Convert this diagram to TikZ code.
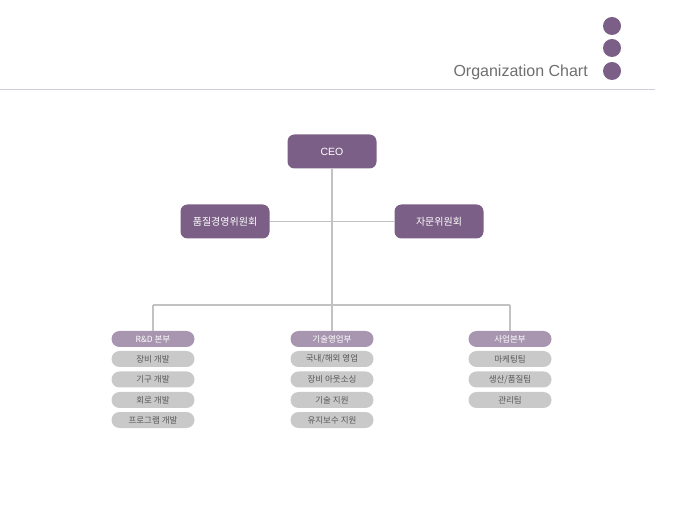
\documentclass[tikz,border=0pt]{standalone}
\usepackage{fontspec}
\setmainfont{Liberation Sans}
\newfontfamily\kr{Noto Sans CJK KR}
\definecolor{plum}{HTML}{7B5F86}
\definecolor{lplum}{HTML}{A896B0}
\definecolor{itemgray}{HTML}{C9C9C9}
\definecolor{linegray}{HTML}{C2C2C2}
\definecolor{rulegray}{HTML}{D3CDD6}
\definecolor{txtgray}{HTML}{6E6E6E}
\begin{document}
\begin{tikzpicture}[x=1pt,y=-1pt,
  bigbox/.style={fill=plum,rounded corners=7pt,minimum width=89pt,minimum height=34pt,inner sep=0pt,text=white,font=\kr\fontsize{10}{11}\selectfont},
  headbox/.style={fill=lplum,rounded corners=8pt,minimum width=83pt,minimum height=16pt,inner sep=0pt,text=white,font=\kr\fontsize{8.5}{9}\selectfont},
  itembox/.style={fill=itemgray,rounded corners=8pt,minimum width=83pt,minimum height=16pt,inner sep=0pt,text=txtgray!80!black,font=\kr\fontsize{8.5}{9}\selectfont},
  conn/.style={draw=linegray,line width=1.1pt},
  dot/.style={circle,fill=plum,minimum size=18pt,inner sep=0pt}]
\useasboundingbox (0,0) rectangle (680,510);
% header
\node[dot] (d1) at (612,26) {};
\node[dot] (d2) at (612,48) {};
\node[dot] (d3) at (612,71) {};
\node[anchor=east,text=txtgray,font=\fontsize{16}{18}\selectfont,inner sep=0pt] (title) at (588,72) {Organization Chart};
\coordinate (rl) at (0,89.5);
\coordinate (rr) at (655,89.5);
\draw[draw=rulegray,line width=1.3pt] (rl) -- (rr);
% top boxes
\node[bigbox,font=\fontsize{10.5}{11}\selectfont] (ceo) at (332,151.5) {CEO};
\node[bigbox] (qm) at (225,221.5) {품질경영위원회};
\node[bigbox] (adv) at (439,221.5) {자문위원회};
% connector junctions
\coordinate (j1) at (332,221.5);
\coordinate (j2) at (332,305);
\coordinate (jl) at (153,305);
\coordinate (jr) at (510,305);
% heads
\node[headbox] (h1) at (153,339) {R\&D 본부};
\node[headbox] (h2) at (332,339) {기술영업부};
\node[headbox] (h3) at (510,339) {사업본부};
% items
\node[itembox] (a1) at (153,359) {장비 개발};
\node[itembox] (a2) at (153,379.5) {기구 개발};
\node[itembox] (a3) at (153,400) {회로 개발};
\node[itembox] (a4) at (153,420) {프로그램 개발};
\node[itembox] (b1) at (332,359) {국내/해외 영업};
\node[itembox] (b2) at (332,379.5) {장비 아웃소싱};
\node[itembox] (b3) at (332,400) {기술 지원};
\node[itembox] (b4) at (332,420) {유지보수 지원};
\node[itembox] (c1) at (510,359) {마케팅팀};
\node[itembox] (c2) at (510,379.5) {생산/품질팀};
\node[itembox] (c3) at (510,400) {관리팀};
% connectors
\draw[conn] (ceo.south) -- (j2);
\draw[conn] (qm.east) -- (adv.west);
\draw[conn] (jl) -- (jr);
\draw[conn] (jl) -- (h1.north);
\draw[conn] (j2) -- (h2.north);
\draw[conn] (jr) -- (h3.north);
\end{tikzpicture}
\end{document}
